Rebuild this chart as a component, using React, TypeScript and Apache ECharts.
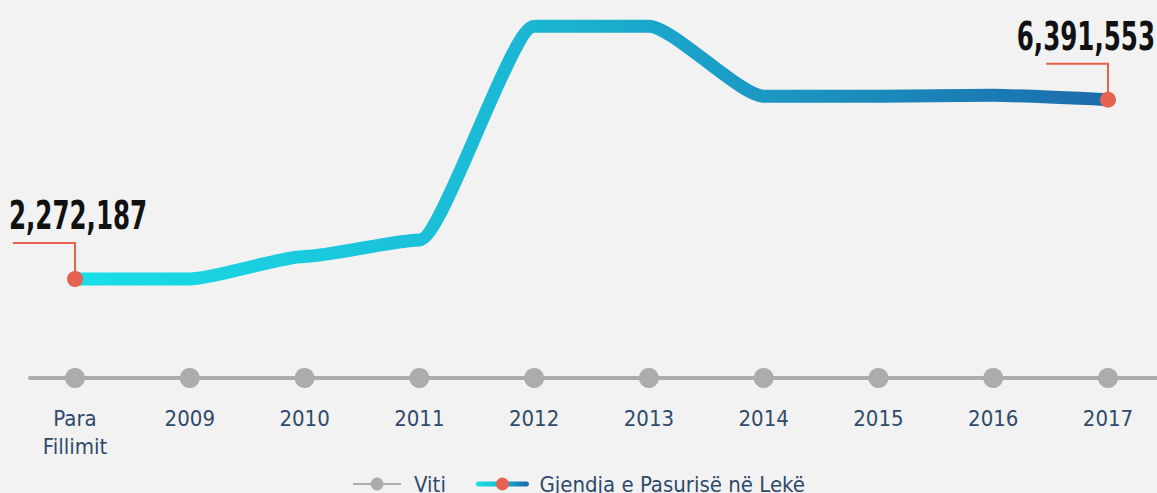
import React, { useEffect, useRef } from "react";
import * as echarts from "echarts";

const categories = ["Para\nFillimit", "2009", "2010", "2011", "2012", "2013", "2014", "2015", "2016", "2017"];
const wealthValues = [2272187, 2275000, 2790000, 3170000, 8080000, 8080000, 6470000, 6470000, 6490000, 6391553];
const yearBaseline = [0, 0, 0, 0, 0, 0, 0, 0, 0, 0];
const labelledPoints = [0, 9];
const seriesNames = ["Viti", "Gjendja e Pasurisë në Lekë"];

const FONT = '"DejaVu Sans Condensed", "Liberation Sans Narrow", sans-serif';
const fmt = (v: number) => v.toLocaleString("en-US");

export default function App() {
  const ref = useRef<HTMLDivElement>(null);
  useEffect(() => {
    if (!ref.current) return;
    const chart = echarts.init(ref.current, null, { renderer: "svg" });
    const stops = [
      { offset: 0, color: "#19dfe8" },
      { offset: 0.45, color: "#1bb5d3" },
      { offset: 1, color: "#1b6cab" },
    ];
    const grad = new echarts.graphic.LinearGradient(0, 0, 1, 0, stops);
    const legendGrad = new echarts.graphic.LinearGradient(0, 0, 50, 0, stops, true);
    chart.setOption({
      animation: false,
      backgroundColor: "#f2f2f2",
      textStyle: { fontFamily: FONT },
      legend: {
        data: [
          { name: seriesNames[0] },
          { name: seriesNames[1], lineStyle: { color: legendGrad, width: 5 } },
        ],
        left: "center",
        top: 468,
        itemWidth: 48,
        itemHeight: 16,
        itemGap: 30,
        textStyle: { fontFamily: FONT, fontSize: 22, color: "#2f4a6a", padding: [0, 0, 0, 8] },
      },
      grid: [
        { left: 75, right: 49, top: 0, bottom: 115 },
        { left: 30, right: 0, top: 0, bottom: 115 },
      ],
      xAxis: [
        {
          type: "category",
          gridIndex: 0,
          data: categories,
          boundaryGap: false,
          axisLine: { show: false },
          axisTick: { show: false },
          axisLabel: {
            margin: 26,
            fontFamily: FONT,
            fontSize: 22,
            lineHeight: 28,
            color: "#2f4a6a",
            verticalAlign: "top",
          },
        },
        {
          type: "value",
          gridIndex: 1,
          min: 0,
          max: 1,
          axisLine: { show: true, lineStyle: { color: "#acacac", width: 4 } },
          axisTick: { show: false },
          axisLabel: { show: false },
          splitLine: { show: false },
        },
      ],
      yAxis: [
        { type: "value", gridIndex: 0, min: 0, max: 8680000, show: false },
        { type: "value", gridIndex: 1, min: 0, max: 1, show: false },
      ],
      series: [
        {
          name: seriesNames[0],
          type: "line",
          xAxisIndex: 0,
          yAxisIndex: 0,
          data: yearBaseline,
          symbol: "circle",
          symbolSize: 20,
          itemStyle: { color: "#acacac" },
          lineStyle: { color: "#acacac", width: 4 },
          z: 3,
        },
        {
          name: seriesNames[1],
          type: "line",
          xAxisIndex: 0,
          yAxisIndex: 0,
          data: wealthValues,
          smooth: 0.2,
          smoothMonotone: "x",
          showSymbol: false,
          symbol: "circle",
          symbolSize: 18,
          itemStyle: { color: "#e5634e" },
          lineStyle: { color: grad, width: 13, cap: "round", join: "round" },
          z: 4,
        },
        {
          type: "custom",
          xAxisIndex: 0,
          yAxisIndex: 0,
          clip: false,
          z: 5,
          data: labelledPoints.map((i) => [i, wealthValues[i]]),
          renderItem: (params: any, api: any) => {
            const pt = api.coord([api.value(0), api.value(1)]);
            const x = pt[0];
            const y = pt[1];
            const last = params.dataIndex === labelledPoints.length - 1;
            return {
              type: "group",
              children: [
                {
                  type: "polyline",
                  shape: { points: [[x - 62, y - 36], [x, y - 36], [x, y]] },
                  style: { stroke: "#e8614c", lineWidth: 2, fill: null },
                },
                { type: "circle", shape: { cx: x, cy: y, r: 8 }, style: { fill: "#e5634e" } },
                {
                  type: "text",
                  x: last ? x + 47 : x + 3,
                  y: y - 63,
                  scaleX: 0.7,
                  style: {
                    text: fmt(api.value(1)),
                    font: `bold 39px ${FONT}`,
                    fill: "#111111",
                    align: last ? "right" : "center",
                    verticalAlign: "middle",
                  },
                },
              ],
            };
          },
        },
      ],
    });
    return () => chart.dispose();
  }, []);
  return (
    <div
      ref={ref}
      style={{ position: "fixed", left: 0, top: 0, width: 1157, height: 493, background: "#f2f2f2" }}
    />
  );
}
